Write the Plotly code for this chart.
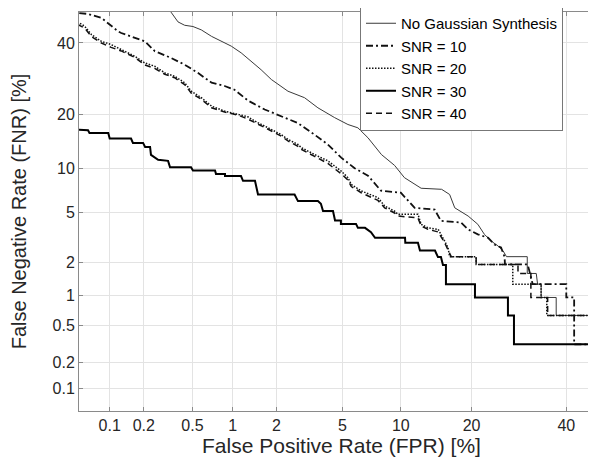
from statistics import NormalDist
import plotly.graph_objects as go

# ---- data (percent) ----
tick_vals = [0.1, 0.2, 0.5, 1, 2, 5, 10, 20, 40]
tick_text = ["0.1", "0.2", "0.5", "1", "2", "5", "10", "20", "40"]

names = ["No Gaussian Synthesis", "SNR = 10", "SNR = 20", "SNR = 30", "SNR = 40"]

nogs_fpr = [0.300, 0.337, 0.384, 0.434, 0.504, 0.585, 0.70, 0.827, 0.977, 1.15, 1.35, 1.58, 1.85,
            2.37, 3.01, 3.62, 4.53, 5.37, 6.08, 6.87, 8.05, 9.34, 10.4, 11.6, 12.4, 15.2, 16.4,
            17.2, 19.4, 21.1, 22.3, 23.6, 24.9, 25.9, 26.6, 31.0, 31.0, 33.0, 33.3, 34.1, 34.1,
            37.6, 37.6, 50.0]
nogs_fnr = [54.0, 50.0, 46.8, 45.7, 45.3, 44.2, 42.1, 40.5, 39.0, 36.9, 34.3, 31.8, 29.0,
            25.8, 24.1, 21.6, 19.3, 17.8, 17.1, 15.1, 12.1, 10.4, 8.70, 7.85, 7.40, 7.28, 6.71,
            5.40, 4.70, 4.07, 3.40, 3.00, 2.74, 2.50, 2.23, 2.23, 1.592, 1.592, 1.274, 1.274, 0.955,
            0.955, 0.637, 0.637]

snr10_fpr = [0.052, 0.063, 0.084, 0.103, 0.119, 0.127, 0.167, 0.204, 0.248, 0.339, 0.434, 0.55,
             0.70, 0.875, 1.03, 1.28, 1.67, 2.15, 2.74, 3.46, 4.14, 4.93, 5.84, 6.87, 8.0, 10.0,
             11.6, 14.2, 15.1, 18.2, 19.4, 21.1, 23.0, 24.2, 25.5, 26.2, 26.3, 31.1, 31.6, 32.2,
             40.0, 40.0, 41.9, 41.9, 50.0]
snr10_fnr = [49.7, 49.4, 48.1, 45.4, 43.75, 43.2, 41.6, 40.5, 37.4, 35.3, 33.3, 30.9,
             28.1, 27.2, 26.2, 23.4, 21.2, 19.7, 18.1, 15.7, 13.85, 11.6, 10.0, 8.96, 7.13, 6.90,
             5.40, 5.24, 4.32, 4.20, 3.72, 3.40, 3.19, 2.82, 2.66, 2.23, 1.911, 1.911, 1.592, 1.274,
             1.274, 0.955, 0.955, 0.318, 0.318]

snr20_fpr = [0.05, 0.0585, 0.068, 0.084, 0.103, 0.127, 0.167, 0.204, 0.247, 0.30, 0.361, 0.434,
             0.489, 0.585, 0.70, 0.875, 1.09, 1.28, 1.50, 1.67, 1.76, 2.15, 2.37, 2.74, 2.87, 3.46,
             4.14, 4.93, 5.37, 5.60, 6.33, 7.73, 8.35, 9.34, 9.69, 12.0, 12.4, 13.3, 14.7, 15.65,
             16.15, 16.4, 20.8, 20.8, 27.9, 27.9, 34.1, 34.1, 35.4, 35.4, 50.0]
snr20_fnr = [46.8, 45.4, 42.65, 40.5, 39.5, 37.9, 35.85, 33.8, 32.85, 30.9, 29.9, 28.1,
             25.8, 24.1, 22.0, 20.8, 20.0, 19.5, 18.2, 17.5, 17.1, 15.7, 14.8, 13.85, 13.3, 12.1,
             11.1, 9.58, 8.70, 7.85, 7.10, 6.38, 5.56, 5.11, 4.84, 4.84, 4.07, 3.82, 3.72, 3.00,
             2.66, 2.23, 2.23, 1.911, 1.911, 1.274, 1.274, 0.955, 0.955, 0.637, 0.637]

snr30_fpr = [0.05, 0.063, 0.065, 0.097, 0.1, 0.155, 0.161, 0.197, 0.205, 0.226, 0.23, 0.264,
             0.319, 0.331, 0.487, 0.504, 0.743, 0.755, 0.88, 0.88, 1.147, 1.185, 1.435, 1.505,
             2.61, 2.74, 3.62, 3.77, 3.88, 4.43, 4.55, 4.91, 4.91, 5.94, 6.08, 6.63, 7.12, 7.47,
             10.47, 10.5, 12.0, 12.25, 14.25, 14.67, 15.1, 15.4, 15.84, 15.84, 20.59, 20.59,
             26.9, 26.9, 28.15, 28.15, 50.0]
snr30_fnr = [16.7, 16.6, 16.06, 16.06, 14.95, 14.95, 14.14, 14.14, 13.42, 13.42, 12.05, 11.25,
             11.09, 10.14, 10.14, 9.66, 9.66, 9.2, 9.2, 8.9, 8.9, 8.29, 8.29, 6.71,
             6.71, 6.03, 6.03, 5.77, 5.11, 5.11, 4.35, 4.35, 4.1, 4.1, 3.82, 3.82, 3.54, 3.19,
             3.19, 2.91, 2.91, 2.51, 2.51, 2.21, 2.21, 1.89, 1.89, 1.274, 1.274, 0.955,
             0.955, 0.637, 0.637, 0.318, 0.318]

snr40_fpr = [0.05, 0.0585, 0.068, 0.084, 0.103, 0.127, 0.167, 0.204, 0.247, 0.30, 0.361, 0.434,
             0.489, 0.585, 0.70, 0.875, 1.09, 1.28, 1.50, 1.67, 1.76, 2.15, 2.37, 2.74, 2.87, 3.46,
             4.14, 4.93, 5.37, 5.60, 6.33, 7.73, 8.35, 9.34, 9.69, 12.0, 12.4, 13.3, 14.7, 15.65,
             16.15, 16.65, 20.8, 20.8, 29.0, 29.0, 31.8, 31.8, 35.6, 35.6, 50.0]
snr40_fnr = [46.0, 44.8, 42.0, 40.0, 38.6, 37.5, 35.5, 33.2, 32.2, 30.5, 29.5, 27.6,
             25.3, 23.7, 21.6, 20.6, 19.9, 19.0, 17.9, 17.2, 16.8, 15.4, 14.5, 13.5, 13.0, 11.8,
             10.7, 9.2, 8.4, 7.6, 6.9, 6.1, 5.40, 4.95, 4.70, 4.55, 3.95, 3.72, 3.55, 2.91,
             2.55, 2.23, 2.23, 1.911, 1.911, 1.592, 1.592, 0.955, 0.955, 0.637, 0.637]

nd = NormalDist()


def probit(pcts):
    return [nd.inv_cdf(p / 100.0) for p in pcts]


series = [
    (names[0], nogs_fpr, nogs_fnr, dict(color="#3a3a3a", width=1.0, dash="solid")),
    (names[1], snr10_fpr, snr10_fnr, dict(color="#111111", width=1.8, dash="7px,3px,2px,3px")),
    (names[2], snr20_fpr, snr20_fnr, dict(color="#111111", width=1.5, dash="1.5px,1.5px")),
    (names[3], snr30_fpr, snr30_fnr, dict(color="#000000", width=2.0, dash="solid")),
    (names[4], snr40_fpr, snr40_fnr, dict(color="#111111", width=1.5, dash="6px,4px")),
]

fig = go.Figure()
for name, fx, fy, line in series:
    fig.add_trace(go.Scatter(x=probit(fx), y=probit(fy), mode="lines", name=name,
                             line=line))

FONT = "Liberation Sans, Arial, sans-serif"
TXT = "#262626"
GRID = "#e3e3e3"
AXL = "#8a8a8a"

axis_common = dict(
    tickmode="array",
    tickvals=probit(tick_vals),
    ticktext=tick_text,
    showgrid=True, gridcolor=GRID, gridwidth=1,
    zeroline=False,
    showline=True, linecolor=AXL, linewidth=1, mirror="ticks",
    ticks="inside", ticklen=4, tickcolor=AXL,
    tickfont=dict(family=FONT, size=16, color=TXT),
)

fig.update_xaxes(
    range=[-3.281, -0.019],
    title=dict(text="False Positive Rate (FPR) [%]", font=dict(family=FONT, size=21, color=TXT),
               standoff=1),
    **axis_common,
)
fig.update_yaxes(
    range=[-3.276, 0.001],
    title=dict(text="False Negative Rate (FNR) [%]", font=dict(family=FONT, size=20, color=TXT),
               standoff=22),
    **axis_common,
)

fig.update_layout(
    width=596, height=457,
    margin=dict(l=71, r=0, t=4, b=54, autoexpand=False),
    plot_bgcolor="white", paper_bgcolor="white",
    font=dict(family=FONT, color=TXT),
    showlegend=True,
    legend=dict(x=(352 - 71) / 525, y=1.015, xanchor="left", yanchor="top",
                bgcolor="white", bordercolor="#777777", borderwidth=1,
                font=dict(family=FONT, size=15, color="#000000"),
                tracegroupgap=0, itemwidth=30),
)

fig.write_html("out.html")
